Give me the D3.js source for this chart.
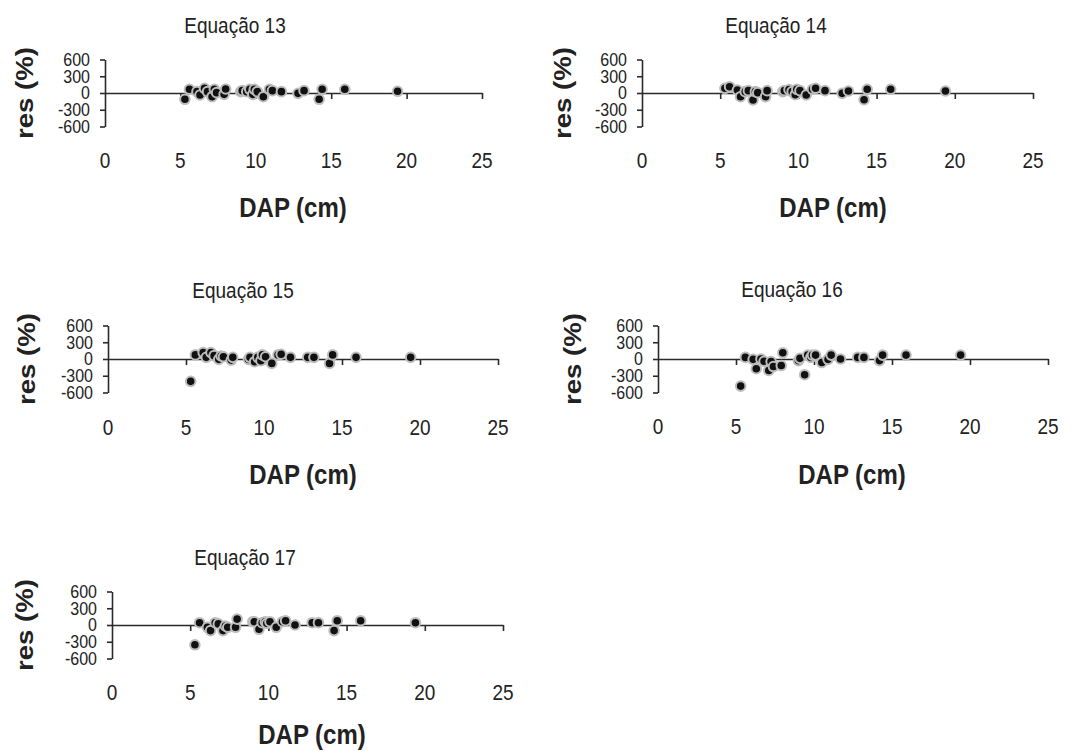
<!DOCTYPE html>
<html>
<head>
<meta charset="utf-8">
<script src="https://cdn.jsdelivr.net/npm/d3@7"></script>
<style>
  body { margin: 0; background: #fff; }
  svg { display: block; font-family: "Liberation Sans", Arial, sans-serif; }
</style>
</head>
<body>
<div id="chart"></div>
<script>
// DAP (cm) of the sampled trees, shared by all equations
const dap = [5.3, 5.6, 6.1, 6.3, 6.6, 6.8, 7.1, 7.25, 7.4, 7.9, 8.0, 9.0, 9.1, 9.4,
  9.6, 9.8, 9.9, 10.1, 10.5, 10.9, 11.1, 11.7, 12.8, 13.2, 14.2, 14.4, 15.9, 19.4]

// residuals (%) per equation
const res13 = [-113, 66, 24, -36, 84, 24, -66, 66, 6, -24, 72, 24, 42, 24,
  66, -24, 66, 24, -66, 66, 42, 24, -6, 42, -113, 66, 66, 30]
const res14 = [84, 113, 54, -66, 24, 42, -125, 24, 6, -66, 42, 24, 42, 60,
  24, -30, 66, 42, -36, 66, 84, 42, -6, 36, -120, 66, 66, 36]
const res15 = [-400, 73, 115, 30, 115, 60, -6, 55, 40, -20, 30, -6, 30, -48,
  30, -30, 73, 40, -79, 73, 85, 30, 30, 30, -79, 73, 30, 30]
const res16 = [-485, 29, -6, -175, 0, -40, -205, -47, -135, -117, 111, -29, 12, -281,
  70, 29, 70, 70, -64, -6, 70, 0, 29, 29, -29, 70, 70, 70]
const res17 = [-355, 41, -41, -100, 41, 20, -100, -18, -41, -41, 106, 59, 59, -77,
  41, 59, 30, 59, -41, 59, 77, 0, 41, 41, -100, 77, 77, 41]

const titles = ['Equação 13', 'Equação 14', 'Equação 15', 'Equação 16', 'Equação 17']
const series = [res13, res14, res15, res16, res17]
const xTicks = [0, 5, 10, 15, 20, 25]
const yTicks = [600, 300, 0, -300, -600]

// panel placement (pixels)
const panels = [
  { x0: 105, x1: 482, yz: 93, tx: 235, ty: 25, lx: 160, dx: 293, dy: 207, rx: 25 },
  { x0: 642, x1: 1033, yz: 93, tx: 776, ty: 25, lx: 160, dx: 833, dy: 207, rx: 563 },
  { x0: 108, x1: 498, yz: 359, tx: 243, ty: 290, lx: 427, dx: 303, dy: 474, rx: 27 },
  { x0: 658, x1: 1048, yz: 359, tx: 792, ty: 289, lx: 426, dx: 852, dy: 474, rx: 573 },
  { x0: 112, x1: 503, yz: 625, tx: 245, ty: 557, lx: 692, dx: 312, dy: 734, rx: 25 }
]

const W = 1078, H = 751
const half = 33.5, stretch = 1.15, ink = '#2a2a2a'

const svg = d3.select('#chart').append('svg')
  .attr('width', W).attr('height', H)

// text with a slight vertical stretch like the scanned figure
function label (g, txt, x, y, size, weight, anchor, rot) {
  return g.append('text')
    .attr('transform', 'translate(' + x + ',' + y + ') scale(1,' + stretch + ')' + (rot ? ' rotate(' + rot + ')' : ''))
    .attr('text-anchor', anchor || 'middle')
    .attr('dominant-baseline', 'central')
    .attr('font-size', size)
    .attr('font-weight', weight || 'normal')
    .attr('fill', '#222')
    .text(txt)
}

panels.forEach((p, k) => {
  const g = svg.append('g')
  const x = d3.scaleLinear().domain([0, 25]).range([p.x0, p.x1])
  const y = d3.scaleLinear().domain([-600, 600]).range([p.yz + half, p.yz - half])

  // y axis
  const ya = g.append('g')
    .attr('transform', 'translate(' + p.x0 + ',0)')
    .call(d3.axisLeft(y).tickValues(yTicks).tickSize(5).tickSizeOuter(0).tickFormat(''))
  ya.select('.domain').attr('stroke', ink).attr('stroke-width', 1.6)
  ya.selectAll('.tick line').attr('stroke', ink).attr('stroke-width', 1.6)

  // x axis along zero
  const xa = g.append('g')
    .attr('transform', 'translate(0,' + p.yz + ')')
    .call(d3.axisBottom(x).tickValues(xTicks.slice(1)).tickSize(6).tickSizeOuter(0).tickFormat(''))
  xa.select('.domain').attr('stroke', ink).attr('stroke-width', 1.6)
  xa.selectAll('.tick line').attr('stroke', ink).attr('stroke-width', 1.6)

  // tick labels
  yTicks.forEach(t => label(g, t, p.x0 - 15, y(t), 16, 'normal', 'end'))
  xTicks.forEach(t => label(g, t, x(t), p.lx, 19))

  // points
  g.selectAll('circle')
    .data(dap.map((d, i) => ({ d: d, r: series[k][i] })))
    .enter()
    .append('circle')
    .attr('cx', d => x(d.d))
    .attr('cy', d => y(d.r))
    .attr('r', 4.8)
    .attr('fill', '#111')
    .attr('stroke', '#bdbdbd')
    .attr('stroke-width', 2)

  label(g, titles[k], p.tx, p.ty, 19)
  label(g, 'DAP (cm)', p.dx, p.dy, 24, 'bold')
  label(g, 'res (%)', p.rx, p.yz, 24, 'bold', 'middle', -90)
})
</script>
</body>
</html>
